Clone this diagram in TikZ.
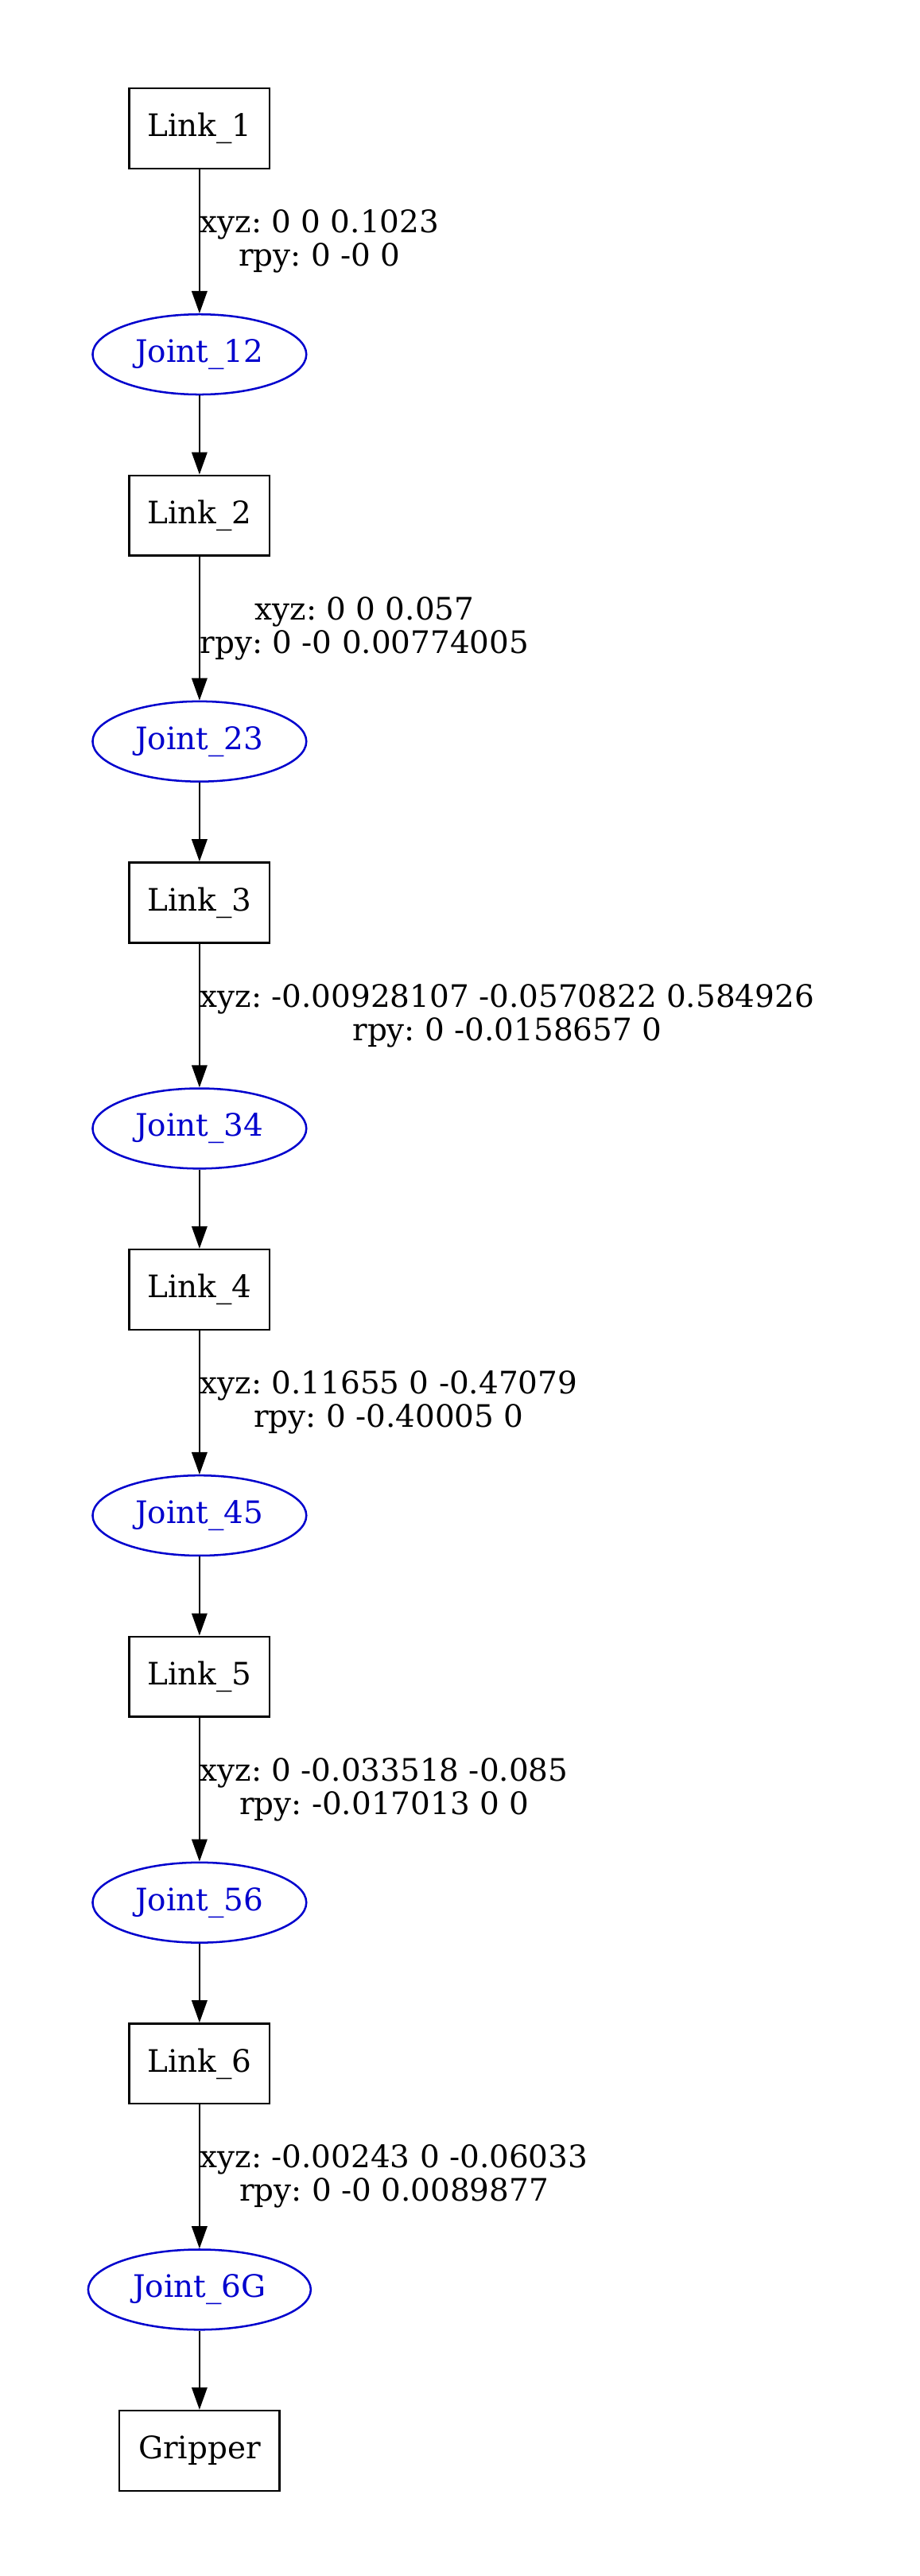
\documentclass[tikz,border=0pt]{standalone}
\usepackage{fontspec}
\setmainfont{DejaVu Serif}
\frenchspacing
\usetikzlibrary{arrows.meta,shapes.geometric}
\definecolor{jointblue}{RGB}{0,0,205}

\begin{document}
\begin{tikzpicture}[x=1pt,y=1pt,
    every node/.style={font=\fontsize{13.9}{15}\selectfont},
    link/.style={draw, line width=0.9pt, minimum width=63pt, minimum height=36pt, inner sep=0pt},
    joint/.style={draw=jointblue, text=jointblue, ellipse, line width=0.9pt, minimum width=96pt, minimum height=36pt, inner sep=0pt},
    lbl/.style={right, align=center, inner sep=0pt},
    >={Triangle[length=10pt,width=7pt]}, line width=0.6pt]
      \useasboundingbox (-89.6,57.7) rectangle (323.3,-1099.1);

      \node [link] (1) {Link\_1};
      \node [joint, below of=1, yshift=-73pt] (12) {Joint\_12};
      \node [link, below of=12, yshift=-43.9pt] (2) {Link\_2};
      \node [joint, below of=2, yshift=-73pt] (23) {Joint\_23};
      \node [link, below of=23, yshift=-43.9pt] (3) {Link\_3};
      \node [joint, below of=3, yshift=-73pt] (34) {Joint\_34};
      \node [link, below of=34, yshift=-43.9pt] (4) {Link\_4};
      \node [joint, below of=4, yshift=-73pt] (45) {Joint\_45};
      \node [link, below of=45, yshift=-43.9pt] (5) {Link\_5};
      \node [joint, below of=5, yshift=-73pt] (56) {Joint\_56};
      \node [link, below of=56, yshift=-43.9pt] (6) {Link\_6};
      \node [joint, below of=6, yshift=-73pt, minimum width=100pt] (6G) {Joint\_6G};
      \node [link, below of=6G, yshift=-43.9pt, minimum width=72pt] (G) {Gripper};

      \draw[->] (1) -- node[lbl] {xyz: 0 0 0.1023\\rpy: 0 -0 0} (12);
      \draw[->] (12) -- (2);
      \draw[->] (2) -- node[lbl] {xyz: 0 0 0.057\\rpy: 0 -0 0.00774005} (23);
      \draw[->] (23) -- (3);
      \draw[->] (3) -- node[lbl] {xyz: -0.00928107 -0.0570822 0.584926\\rpy: 0 -0.0158657 0} (34);
      \draw[->] (34) -- (4);
      \draw[->] (4) -- node[lbl] {xyz: 0.11655 0 -0.47079\\rpy: 0 -0.40005 0} (45);
      \draw[->] (45) -- (5);
      \draw[->] (5) -- node[lbl] {xyz: 0 -0.033518 -0.085\\rpy: -0.017013 0 0} (56);
      \draw[->] (56) -- (6);
      \draw[->] (6) -- node[lbl] {xyz: -0.00243 0 -0.06033\\rpy: 0 -0 0.0089877} (6G);
      \draw[->] (6G) -- (G);
    \end{tikzpicture}
\end{document}
